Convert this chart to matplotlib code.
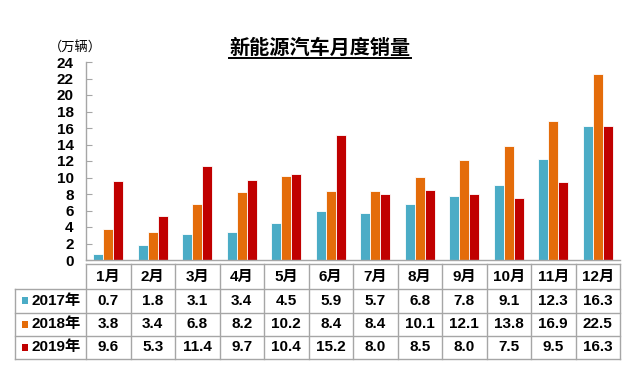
import matplotlib
matplotlib.use("Agg")
import matplotlib.pyplot as plt
import matplotlib.transforms as mtransforms
from matplotlib.patches import Rectangle
from matplotlib.lines import Line2D
import numpy as np

months = ["1月", "2月", "3月", "4月", "5月", "6月", "7月", "8月", "9月", "10月", "11月", "12月"]
series_names = ["2017年", "2018年", "2019年"]
sales_2017 = [0.7, 1.8, 3.1, 3.4, 4.5, 5.9, 5.7, 6.8, 7.8, 9.1, 12.3, 16.3]
sales_2018 = [3.8, 3.4, 6.8, 8.2, 10.2, 8.4, 8.4, 10.1, 12.1, 13.8, 16.9, 22.5]
sales_2019 = [9.6, 5.3, 11.4, 9.7, 10.4, 15.2, 8.0, 8.5, 8.0, 7.5, 9.5, 16.3]
yticks = list(range(0, 25, 2))
colors = ["#4bacc6", "#e46c0a", "#c00000"]
title = "新能源汽车月度销量"
unit_label = "（万辆）"

FONT = ["Liberation Sans", "Noto Sans CJK SC", "DejaVu Sans"]
plt.rcParams["font.family"] = FONT

W, H = 640, 373
fig = plt.figure(figsize=(W / 100, H / 100), dpi=100)
ax = fig.add_axes([86 / W, 1 - 260 / H, (620 - 86) / W, (260 - 62) / H])

series = [sales_2017, sales_2018, sales_2019]
x = np.arange(len(months))
bw = 0.222
for k, (vals, c) in enumerate(zip(series, colors)):
    ax.bar(x + (k - 1) * bw, vals, width=bw, color=c, edgecolor="white", linewidth=0.6, zorder=2)

ax.set_xlim(-0.5, len(months) - 0.5)
ax.set_ylim(0, 24)
ax.set_yticks(yticks)
ax.set_yticklabels([str(v) for v in yticks], fontsize=11, fontweight="bold")
ax.set_xticks([])
for s in ["top", "right"]:
    ax.spines[s].set_visible(False)
for s in ["left", "bottom"]:
    ax.spines[s].set_color("#a6a6a6")
    ax.spines[s].set_linewidth(1)
ax.tick_params(axis="y", direction="in", length=4, color="#a6a6a6", pad=9)

# title with underline
t = fig.text(320 / W, 1 - 47 / H, title, ha="center", va="center", fontsize=14.5,
             fontweight="bold", family=["Noto Sans CJK SC"])
fig.canvas.draw()
bb = t.get_window_extent(renderer=fig.canvas.get_renderer())
fig.add_artist(Line2D([bb.x0 / W, bb.x1 / W], [(H - 58) / H, (H - 58) / H],
                      transform=fig.transFigure, color="black", linewidth=1.4))

fig.text(49 / W, 1 - 48 / H, unit_label, ha="left", va="center", fontsize=9.5,
         family=["Noto Sans CJK SC"])

# data table
tr = mtransforms.blended_transform_factory(ax.transData, fig.transFigure)
row_y = [264, 289, 312.5, 336, 358.5]  # pixel boundaries
fy = lambda p: 1 - p / H
left_px = 15
x_left = -0.5 - (86 - left_px) / 44.5
gc = "#a6a6a6"
lw = 1.0
fig.add_artist(Line2D([-0.5, len(months) - 0.5], [fy(row_y[0])] * 2, transform=tr, color=gc, lw=lw))
for p in row_y[1:]:
    fig.add_artist(Line2D([x_left, len(months) - 0.5], [fy(p)] * 2, transform=tr, color=gc, lw=lw))
fig.add_artist(Line2D([x_left, x_left], [fy(row_y[1]), fy(row_y[-1])], transform=tr, color=gc, lw=lw))
for i in range(len(months) + 1):
    fig.add_artist(Line2D([i - 0.5, i - 0.5], [fy(row_y[0]), fy(row_y[-1])], transform=tr, color=gc, lw=lw))

for i, m in enumerate(months):
    fig.text(i, fy((row_y[0] + row_y[1]) / 2), m, transform=tr, ha="center", va="center",
             fontsize=11, fontweight="bold")
for r, (vals, name, c) in enumerate(zip(series, series_names, colors)):
    yc = fy((row_y[r + 1] + row_y[r + 2]) / 2)
    for i, v in enumerate(vals):
        fig.text(i, yc, f"{v:.1f}", transform=tr, ha="center", va="center",
                 fontsize=11, fontweight="bold")
    fig.add_artist(Rectangle((21.5 / W, yc - 3.5 / H), 7 / W, 7 / H, transform=fig.transFigure,
                             facecolor=c, edgecolor="none"))
    fig.text(31 / W, yc, name, ha="left", va="center", fontsize=11, fontweight="bold")

fig.savefig("out.png", dpi=100)
